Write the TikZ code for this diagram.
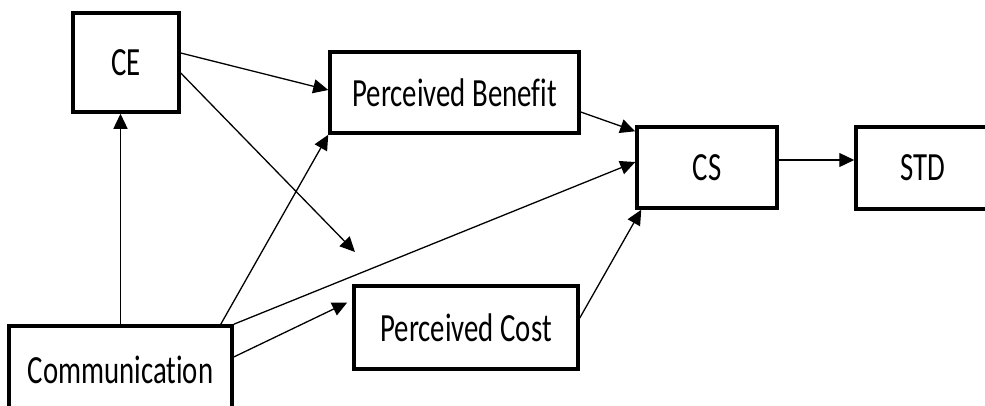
\documentclass[tikz,border=0pt]{standalone}
\usepackage{fontspec}
\setmainfont{Carlito}[FakeStretch=0.72, Ligatures=NoCommon]
\usetikzlibrary{arrows.meta, calc}
\tikzset{
    var/.style={draw, line width=3.5pt, inner sep=0pt, font=\fontsize{40}{44}\selectfont},
    path/.style={line width=1.3pt, -{Triangle[length=15pt,width=14pt]}}
}
\begin{document}
\begin{tikzpicture}[x=1pt, y=-1pt]
        \clip (0,0) rectangle (985,405);
        % Variables
        \node[var, minimum width=106pt, minimum height=99pt] (ce) at (126,62.5) {CE};
        \node[var, minimum width=249pt, minimum height=81pt] (pb) at (454.5,92.5) {Perceived Benefit};
        \node[var, minimum width=224pt, minimum height=83pt] (pc) at (466,327.5) {Perceived Cost};
        \node[var, minimum width=140pt, minimum height=81pt] (cs) at (707,167.5) {CS};
        \node[var, minimum width=134pt, minimum height=82pt] (std) at (923,168) {STD};
        \node[var, minimum width=223pt, minimum height=88pt] (comm) at (120.5,370) {Communication};
        \coordinate (loose) at (355,252);
        % Paths
        \draw[path] ($(ce.east)+(0,-9.5)$) -- ($(pb.west)+(0,-2.5)$);
        \draw[path] ($(ce.east)+(0,10.5)$) -- (loose);
        \draw[path] (comm.north) -- (comm.north |- ce.south);
        \draw[path] ($(comm.north east)+(-13,0)$) -- (pb.south west);
        \draw[path] (comm.north east) -- ($(cs.west)+(0,-5.5)$);
        \draw[path] ($(comm.east)+(0,-13)$) -- ($(pc.west)+(-5,-25)$);
        \draw[path] ($(pb.east)+(0,19.5)$) -- ($(cs.north west)+(0,6)$);
        \draw[path] ($(pc.east)+(0,-9.5)$) -- ($(cs.south west)+(6,0)$);
        \draw[path] ($(cs.east)+(0,-7.5)$) -- ($(std.west)+(0,-8)$);
    \end{tikzpicture}
\end{document}
